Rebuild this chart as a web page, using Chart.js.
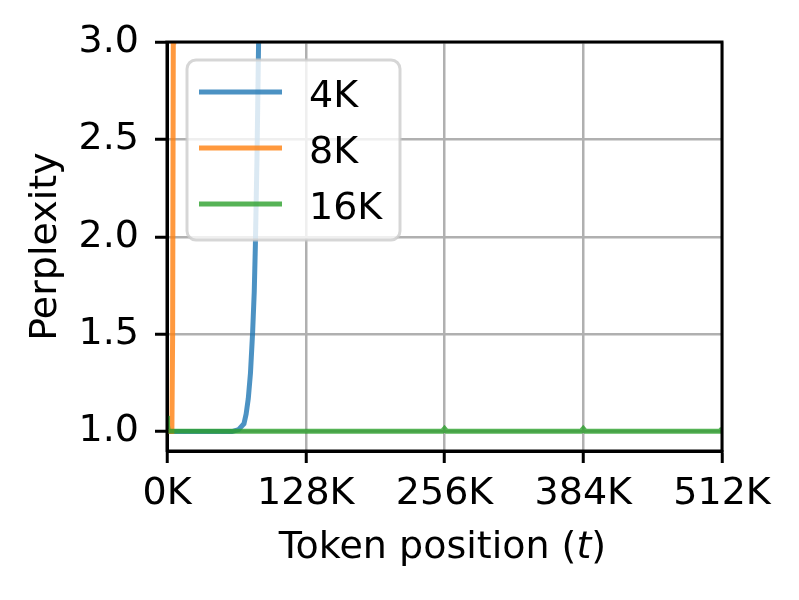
<!DOCTYPE html>
<html>
<head>
<meta charset="utf-8">
<title>Perplexity vs token position</title>
<script src="https://cdn.jsdelivr.net/npm/chart.js@4.4.1/dist/chart.umd.min.js"></script>
<style>
  body { margin: 0; background: #fff; }
  #wrap { width: 799px; height: 600px; }
</style>
</head>
<body>
<div id="wrap"><canvas id="chart" width="799" height="600"></canvas></div>
<script>
// token positions are in thousands (K)
const xTicks = [0, 128, 256, 384, 512];
const yTicks = [1.0, 1.5, 2.0, 2.5, 3.0];

// 4K training length - blows up around 80K
const tokens4K = [0, 20, 40, 60, 66, 71, 73, 75, 77, 79, 80.5, 81.5, 83, 84.5, 86];
const ppl4K = [1.0, 1.0, 1.0, 1.0, 1.01, 1.04, 1.09, 1.17, 1.3, 1.51, 1.72, 1.95, 2.4, 3.0, 3.7];

// 8K training length - blows up almost right away
const tokens8K = [0, 4.5, 5.2, 5.8, 6.2];
const ppl8K = [1.0, 1.0, 1.5, 3.0, 4.0];

// 16K training length - stays flat all the way
const tokens16K = [0, 0.5, 1, 2, 64, 128, 192, 254, 256, 258, 320, 382, 384, 386, 448, 510, 512];
const ppl16K = [1.08, 1.03, 1.01, 1.003, 1.002, 1.002, 1.002, 1.002, 1.015, 1.002, 1.002, 1.002, 1.015, 1.002, 1.002, 1.002, 1.014];

const seriesLabels = ['4K', '8K', '16K'];
const seriesColors = ['rgba(31, 119, 180, 0.8)', 'rgba(255, 127, 14, 0.8)', 'rgba(44, 160, 44, 0.8)'];

const FONT = 'DejaVu Sans';
const FONT_SIZE = 38;

function toPoints(xs, ys) {
  return xs.map((x, i) => ({ x: x, y: ys[i] }));
}

function makeDataset(i, xs, ys) {
  return {
    label: seriesLabels[i],
    data: toPoints(xs, ys),
    borderColor: seriesColors[i],
    backgroundColor: seriesColors[i],
    borderWidth: 5,
    pointRadius: 0,
    tension: 0,
    fill: false,
    clip: 0,
    order: 3 - i // later series on top, like matplotlib
  };
}

// draws spines, legend box and axis titles
const decorPlugin = {
  id: 'decor',
  afterDatasetsDraw(chart) {
    const ctx = chart.ctx;
    const area = chart.chartArea;
    ctx.save();

    // spines on all four sides
    ctx.strokeStyle = '#000';
    ctx.lineWidth = 3;
    ctx.strokeRect(area.left, area.top, area.right - area.left, area.bottom - area.top);

    // legend frame
    const box = { x: 187, y: 60, w: 213, h: 180, r: 9 };
    ctx.beginPath();
    ctx.roundRect(box.x, box.y, box.w, box.h, box.r);
    ctx.fillStyle = 'rgba(255, 255, 255, 0.8)';
    ctx.fill();
    ctx.strokeStyle = 'rgba(204, 204, 204, 0.8)';
    ctx.lineWidth = 3;
    ctx.stroke();

    // legend entries
    ctx.font = FONT_SIZE + 'px "' + FONT + '"';
    ctx.textAlign = 'left';
    ctx.textBaseline = 'alphabetic';
    chart.data.datasets.forEach((ds, i) => {
      const y = 92 + i * 56;
      ctx.beginPath();
      ctx.moveTo(199, y);
      ctx.lineTo(282, y);
      ctx.strokeStyle = ds.borderColor;
      ctx.lineWidth = 5;
      ctx.stroke();
      ctx.fillStyle = '#000';
      ctx.fillText(ds.label, 309, y + 15);
    });

    // y axis title
    ctx.save();
    ctx.translate(56, (area.top + area.bottom) / 2);
    ctx.rotate(-Math.PI / 2);
    ctx.textAlign = 'center';
    ctx.fillText('Perplexity', 0, 0);
    ctx.restore();

    // x axis title with italic t
    const normal = FONT_SIZE + 'px "' + FONT + '"';
    const italic = 'italic ' + FONT_SIZE + 'px "' + FONT + '"';
    const parts = [['Token position (', normal], ['t', italic], [')', normal]];
    let total = 0;
    parts.forEach(p => {
      ctx.font = p[1];
      total += ctx.measureText(p[0]).width;
    });
    let x = (area.left + area.right) / 2 - 2 - total / 2;
    ctx.textAlign = 'left';
    parts.forEach(p => {
      ctx.font = p[1];
      ctx.fillText(p[0], x, 558);
      x += ctx.measureText(p[0]).width;
    });

    ctx.restore();
  }
};

const tickFont = { family: FONT, size: FONT_SIZE };

new Chart(document.getElementById('chart'), {
  type: 'line',
  data: {
    datasets: [
      makeDataset(0, tokens4K, ppl4K),
      makeDataset(1, tokens8K, ppl8K),
      makeDataset(2, tokens16K, ppl16K)
    ]
  },
  plugins: [decorPlugin],
  options: {
    responsive: false,
    animation: false,
    devicePixelRatio: 1,
    layout: {
      padding: { top: 42, right: 77, bottom: 0, left: 0 }
    },
    plugins: {
      legend: { display: false },
      tooltip: { enabled: false }
    },
    scales: {
      x: {
        type: 'linear',
        position: 'bottom',
        min: 0,
        max: 512,
        afterBuildTicks: scale => { scale.ticks = xTicks.map(v => ({ value: v })); },
        afterFit: scale => { scale.height = 149; },
        grid: { color: '#b0b0b0', lineWidth: 2.5, tickColor: '#000', tickWidth: 3, tickLength: 12 },
        border: { color: '#000', width: 3 },
        ticks: {
          font: tickFont,
          color: '#000',
          padding: 8,
          maxRotation: 0,
          autoSkip: false,
          callback: v => v + 'K'
        }
      },
      y: {
        type: 'linear',
        min: 0.9,
        max: 3.0,
        afterBuildTicks: scale => { scale.ticks = yTicks.map(v => ({ value: v })); },
        afterFit: scale => { scale.width = 167; },
        grid: { color: '#b0b0b0', lineWidth: 2.5, tickColor: '#000', tickWidth: 3, tickLength: 12 },
        border: { color: '#000', width: 3 },
        ticks: {
          font: tickFont,
          color: '#000',
          padding: 16,
          autoSkip: false,
          callback: v => Number(v).toFixed(1)
        }
      }
    }
  }
});
</script>
</body>
</html>
